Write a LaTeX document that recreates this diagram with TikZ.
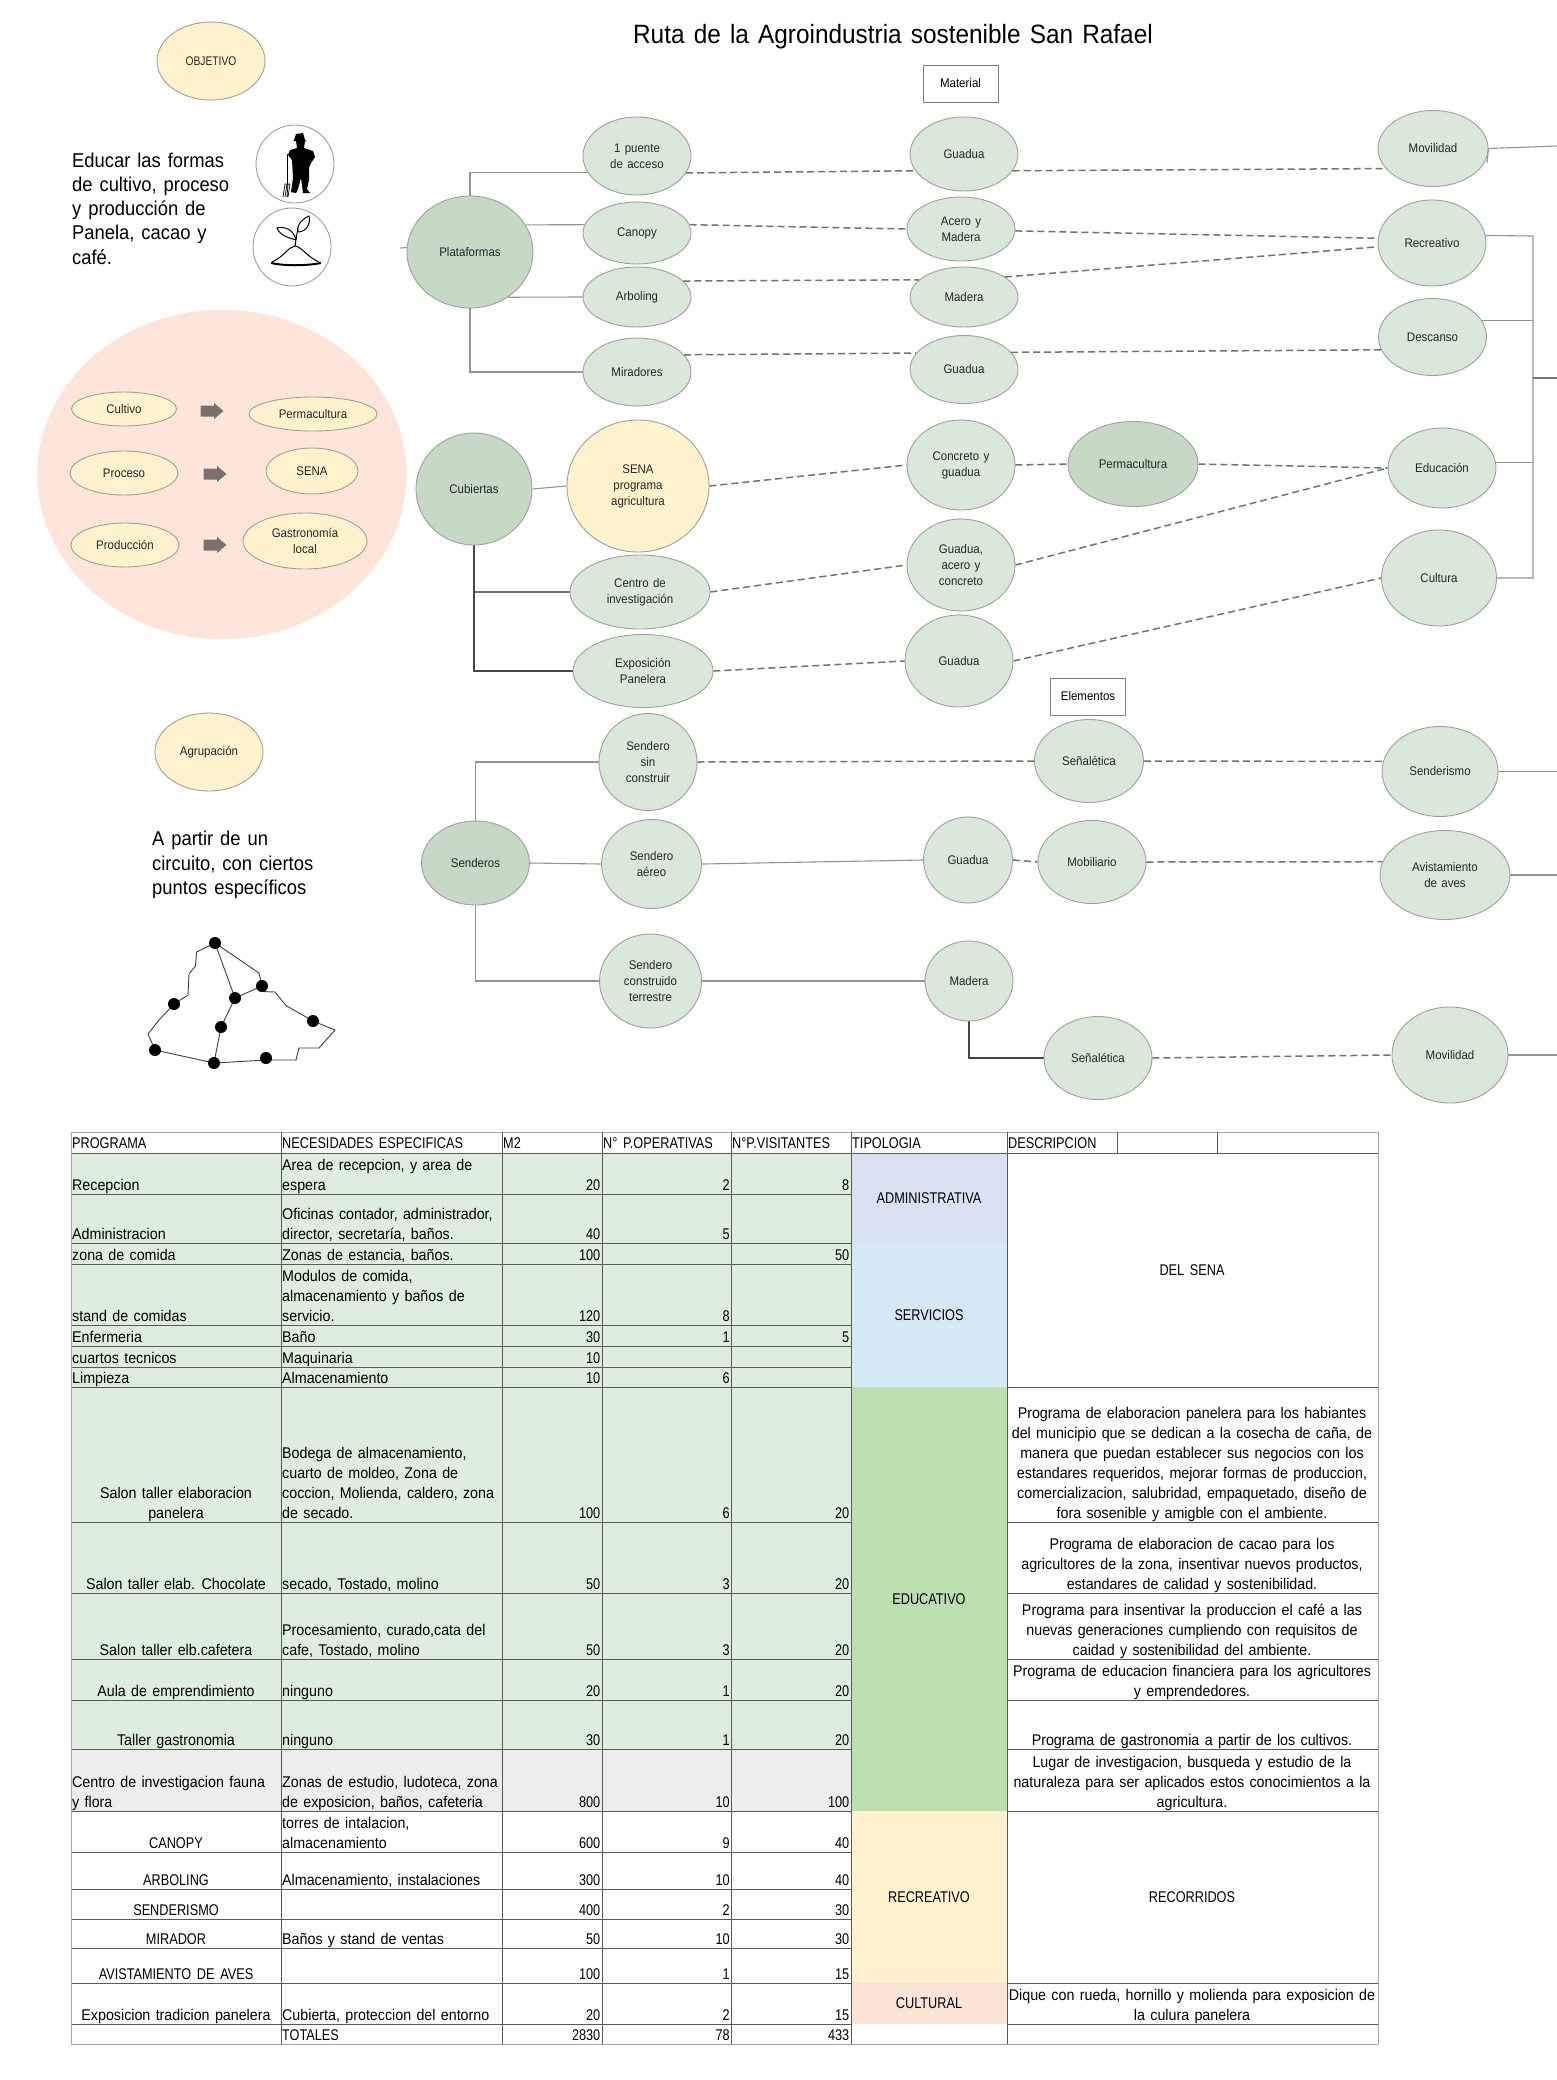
\documentclass[tikz,border=0pt]{standalone}
\usepackage{fontspec}
\setmainfont[FakeStretch=0.92,WordSpace=1.35]{Liberation Sans}
\newfontfamily\estrecha[FakeStretch=0.82,WordSpace=1.6]{Liberation Sans}
\usetikzlibrary{shapes.geometric,backgrounds}
\definecolor{verdeclaro}{HTML}{DAE8DC}
\definecolor{verdeoscuro}{HTML}{C5D9C5}
\definecolor{crema}{HTML}{FFF2CC}
\definecolor{durazno}{HTML}{FDE5D9}
\definecolor{borde}{HTML}{9AA39A}
\definecolor{filaverde}{HTML}{DDEEDC}
\definecolor{filagris}{HTML}{EDEDED}
\definecolor{tipoadmin}{HTML}{D9E2F3}
\definecolor{tiposerv}{HTML}{D5E8F5}
\definecolor{tipoedu}{HTML}{BBDFAE}
\definecolor{tipocult}{HTML}{FCE4D6}
\definecolor{flechagris}{HTML}{7A6F6B}
\tikzset{
  bola/.style 2 args={ellipse, minimum width=#1pt, minimum height=#2pt, inner sep=0pt,
    align=center, draw=borde, line width=0.9pt, text=black!85,
    font=\fontsize{12.5}{16}\selectfont},
  verde/.style 2 args={bola={#1}{#2}, fill=verdeclaro},
  fuerte/.style 2 args={bola={#1}{#2}, fill=verdeoscuro},
  amarilla/.style 2 args={bola={#1}{#2}, fill=crema},
  caja/.style={rectangle, draw=black!50, line width=0.9pt, inner sep=0pt, align=center,
    minimum width=75pt, minimum height=37pt, font=\fontsize{12.5}{16}\selectfont},
  liso/.style={draw=black!42, line width=1.1pt},
  medio/.style={draw=black!55, line width=1.2pt},
  oscuro/.style={draw=black!72, line width=1.3pt},
  punteado/.style={draw=black!55, line width=1.5pt, dash pattern=on 7pt off 4pt},
  nota/.style={anchor=west, inner sep=0pt, align=left, font=\fontsize{20}{24.3}\selectfont},
  celda/.style={inner sep=0pt, font=\fontsize{15.5}{20}\selectfont},
  celdaL/.style={celda, anchor=south west, align=left},
  celdaR/.style={celda, anchor=south east, align=right, font=\estrecha\fontsize{15.5}{20}\selectfont},
  celdaC/.style={celda, anchor=south, align=center},
  celdaM/.style={celda, anchor=center, align=center, font=\estrecha\fontsize{15.5}{20}\selectfont},
  regla/.style={draw=black!65, line width=0.9pt},
}
\begin{document}
\begin{tikzpicture}[x=1pt,y=-1pt]
\useasboundingbox (0,0) rectangle (1557,2080);
% titulo
\node[inner sep=0pt, font=\fontsize{26.5}{30}\selectfont] (titulo) at (893,36.5) {Ruta de la Agroindustria sostenible San Rafael};
% columna izquierda
\node[amarilla={108}{78}] (objetivo) at (211,61) {\estrecha OBJETIVO};
\node[nota] (educar) at (72,208.5) {Educar las formas\\de cultivo, proceso\\y producción de\\Panela, cacao y\\café.};
\node[bola={78}{78}] (agricultor) at (295,164) {};
\node[bola={78}{78}] (planta) at (292,247) {};
% agricultor
\fill[black] (294,140) -- (296,134) -- (303,133) -- (305,140) -- (307,141) -- (293,141) -- cycle;
\fill[black] (296,141) -- (305,141) -- (304,148) -- (313,151) -- (315,157) -- (311,163) -- (309,168) -- (309,180) -- (307,189) -- (310,193) -- (303,193) -- (301,178) -- (298,189) -- (296,193) -- (291,192) -- (293,178) -- (292,160) -- (288,155) -- (290,150) -- (297,148) -- cycle;
\draw[black, line width=0.8pt] (287,154) -- (287,184);
\draw[black, line width=0.7pt] (283,197) -- (285,184) -- (290,184) -- (288,197) (285,197) -- (287,184) (287,197) -- (288,184);
% planta
\draw[black, line width=1pt] (272,262) .. controls (285,256) and (288,247) .. (295,246) .. controls (302,247) and (306,256) .. (319,262);
\draw[black, line width=2pt] (271,263) .. controls (285,266) and (305,266) .. (321,263);
\draw[black, line width=1pt] (295,246) .. controls (296,240) and (297,233) .. (298,228);
\draw[black, line width=1pt] (296,240) .. controls (290,238) and (280,236) .. (277,228) .. controls (285,226) and (294,230) .. (296,240);
\draw[black, line width=1pt] (298,232) .. controls (296,224) and (304,218) .. (309,216) .. controls (311,224) and (306,232) .. (298,232);
% circulo durazno
\fill[durazno] (222,474.5) ellipse [x radius=184.5, y radius=164.5];
\node[amarilla={105}{34}] (cultivo) at (124,409) {Cultivo};
\node[amarilla={128}{34}] (perma) at (313,414) {Permacultura};
\node[amarilla={108}{44}] (proceso) at (124,473) {Proceso};
\node[amarilla={92}{46}] (sena) at (312,471) {SENA};
\node[amarilla={108}{44}] (produccion) at (125,545) {Producción};
\node[amarilla={124}{56}] (gastro) at (305,541) {Gastronomía\\local};
\foreach \ax/\ay in {212/411,215/474,215/545}
  \fill[flechagris] (\ax-11.5,\ay-5.5) -- (\ax+2,\ay-5.5) -- (\ax+2,\ay-8) -- (\ax+11.5,\ay) -- (\ax+2,\ay+8) -- (\ax+2,\ay+5.5) -- (\ax-11.5,\ay+5.5) -- cycle;
% agrupacion
\node[amarilla={108}{78}] (agrupa) at (209,752) {Agrupación};
\node[nota] (partir) at (152,865) {A partir de un\\circuito, con ciertos\\puntos específicos};
\draw[black!75, line width=0.9pt] (215,943) -- (196.5,952) -- (195.5,966) -- (189,974) -- (188,995) -- (174,1004) -- (159,1020) -- (148,1034) -- (155,1050) -- (214,1063) -- (266,1060) -- (296,1060) -- (299,1048) -- (319,1048) -- (335,1030) -- (313,1021) -- (286,1005.5) -- (275,992) -- (262,991.5) -- (262,986) -- (259,973) -- cycle;
\draw[black!75, line width=0.9pt] (215,943) -- (235,998) -- (262,986) (235,998) -- (221,1027) -- (214,1063);
\foreach \px/\py in {215/943,262/986,235/998,174/1004,313/1021,221/1027,155/1050,266/1058,214/1063}
  \fill[black] (\px,\py) circle (6);
% plataformas
\node[fuerte={126}{112}] (plat) at (470,252) {Plataformas};
\node[verde={108}{78}] (puente) at (637,156) {1 puente\\de acceso};
\node[verde={108}{62}] (canopy) at (637,233) {Canopy};
\node[verde={108}{60}] (arbol) at (637,297) {Arboling};
\node[verde={108}{68}] (mirador) at (637,372) {Miradores};
\node[caja] (material) at (960.5,83.5) {Material};
\node[verde={108}{74}] (guadua1) at (964,154) {Guadua};
\node[verde={108}{64}] (acero) at (961,229) {Acero y\\Madera};
\node[verde={108}{60}] (madera1) at (964,297) {Madera};
\node[verde={108}{68}] (guadua2) at (964,369.5) {Guadua};
\node[verde={110}{76}] (movil1) at (1433,148.5) {Movilidad};
\node[verde={108}{86}] (recrea) at (1432,243) {Recreativo};
\node[verde={108}{77}] (descanso) at (1432.5,337) {Descanso};
% cubiertas
\node[fuerte={116}{112}] (cubierta) at (474,489) {Cubiertas};
\node[amarilla={142}{132}] (senap) at (638,486) {SENA\\programa\\agricultura};
\node[verde={140}{74}] (centro) at (640,592) {Centro de\\investigación};
\node[verde={140}{73}] (expo) at (643,671) {Exposición\\Panelera};
\node[verde={108}{90}] (concreto) at (961,465) {Concreto y\\guadua};
\node[verde={108}{92}] (gac) at (961,565) {Guadua,\\acero y\\concreto};
\node[verde={108}{92}] (guadua3) at (959,661) {Guadua};
\node[fuerte={130}{85}] (perma2) at (1133,464) {Permacultura};
\node[verde={108}{80}] (educa) at (1442,468) {Educación};
\node[verde={115}{96}] (cultura) at (1439,578) {Cultura};
% senderos
\node[fuerte={108}{84}] (senderos) at (475.5,863) {Senderos};
\node[verde={98}{97}] (sinc) at (648,762) {Sendero\\sin\\construir};
\node[verde={100}{89}] (aereo) at (651.5,864) {Sendero\\aéreo};
\node[verde={102}{94}] (terre) at (650.5,981) {Sendero\\construido\\terrestre};
\node[caja] (elementos) at (1088,696.5) {Elementos};
\node[verde={109}{83}] (senal1) at (1089,761) {Señalética};
\node[verde={89}{86}] (guadua4) at (968,860) {Guadua};
\node[verde={108}{83}] (mobil) at (1092,862) {Mobiliario};
\node[verde={88}{80}] (madera2) at (969,981) {Madera};
\node[verde={108}{83}] (senal2) at (1098,1058) {Señalética};
\node[verde={116}{90}] (senderis) at (1440,771.5) {Senderismo};
\node[verde={130}{89}] (avista) at (1445,875) {Avistamiento\\de aves};
\node[verde={116}{96}] (movil2) at (1450,1055) {Movilidad};
% puntos libres
\coordinate (stub) at (400,248);
\coordinate (troncoA) at (1533,236);
\coordinate (troncoB) at (1533,578);
\coordinate (salidaA) at (1533,378);
\coordinate (salidaB) at (1557,378);
\coordinate (salMov) at (1557,146);
\coordinate (salSen) at (1557,771.5);
\coordinate (salAvi) at (1557,875);
\coordinate (salMov2) at (1557,1055);
\coordinate (ticMov) at (1487,163);
\begin{scope}[on background layer]
\fill[white] (0,0) rectangle (1557,2080);
\fill[durazno] (222,474.5) ellipse [x radius=184.5, y radius=164.5];
% lineas lisas
\draw[liso] (plat.north) |- (puente.199);
\draw[liso] (plat.26) -- (canopy.171);
\draw[liso] (plat.-50) -- (arbol.west);
\draw[liso] (plat.south) |- (mirador.west);
\draw[liso] (stub) -- (plat.176);
\draw[liso] (cubierta.east) -- (senap.west);
\draw[medio] (cubierta.south) |- (centro.west);
\draw[oscuro] (cubierta.south) |- (expo.west);
\draw[liso] (senderos.north) |- (sinc.west);
\draw[liso] (senderos.east) -- (aereo.west);
\draw[liso] (senderos.south) |- (terre.west);
\draw[liso] (aereo.east) -- (guadua4.west);
\draw[liso] (terre.east) -- (madera2.west);
\draw[oscuro] (madera2.south) |- (senal2.west);
\draw[liso] (recrea.8) -- (troncoA) -- (troncoB) -- (cultura.east);
\draw[liso] (descanso.18) -- (descanso.18 -| troncoA);
\draw[liso] (educa.6) -- (educa.6 -| troncoA);
\draw[medio] (salidaA) -- (salidaB);
\draw[liso] (movil1.east) -- (salMov);
\draw[liso] (movil1.east) -- (ticMov);
\draw[liso] (senderis.east) -- (salSen);
\draw[liso] (avista.east) -- (salAvi);
\draw[liso] (movil2.east) -- (salMov2);
\end{scope}
% lineas punteadas
\draw[punteado] (puente.-19) -- (guadua1.199);
\draw[punteado] (guadua1.-19) -- (movil1.203);
\draw[punteado] (canopy.9) -- (acero.west);
\draw[punteado] (acero.-2) -- (recrea.175);
\draw[punteado] (arbol.19) -- (madera1.159);
\draw[punteado] (madera1.26) -- (recrea.184);
\draw[punteado] (mirador.20) -- (guadua2.161);
\draw[punteado] (guadua2.20) -- (descanso.194);
\draw[punteado] (senap.east) -- (concreto.west);
\draw[punteado] (concreto.east) -- (perma2.west);
\draw[punteado] (perma2.east) -- (educa.west);
\draw[punteado] (centro.east) -- (gac.west);
\draw[punteado] (gac.east) -- (educa.west);
\draw[punteado] (expo.east) -- (guadua3.west);
\draw[punteado] (guadua3.east) -- (cultura.west);
\draw[punteado] (sinc.east) -- (senal1.west);
\draw[punteado] (senal1.east) -- (senderis.170);
\draw[punteado] (guadua4.east) -- (mobil.west);
\draw[punteado] (mobil.east) -- (avista.168);
\draw[punteado] (senal2.east) -- (movil2.west);
% tabla, fondos de tipologia
\fill[tipoadmin] (851,1153) rectangle (1007,1243);
\fill[tiposerv] (851,1243) rectangle (1007,1387);
\fill[tipoedu] (851,1387) rectangle (1007,1811);
\fill[crema] (851,1811) rectangle (1007,1983);
\fill[tipocult] (851,1983) rectangle (1007,2024);
% tabla, filas
\foreach \ya/\yb/\rc in {1153/1749/filaverde,1749/1811/filagris}
  \fill[\rc] (71,\ya) rectangle (851,\yb);
\foreach \yr in {1194,1243,1264,1325,1346,1367,1387,1522,1593,1659,1700,1749,1811,1852,1889,1919,1948,1983,2024}
  \draw[regla] (71,\yr) -- (851,\yr);
\foreach \yb/\pa/\prog/\nec/\mm/\ope/\vis [count=\r] in {
  1194/celdaL/Recepcion/{Area de recepcion, y area de\\espera}/20/2/8,
  1243/celdaL/Administracion/{Oficinas contador, administrador,\\director, secretaría, baños.}/40/5/{},
  1264/celdaL/zona de comida/{Zonas de estancia, baños.}/100/{}/50,
  1325/celdaL/stand de comidas/{Modulos de comida,\\almacenamiento y baños de\\servicio.}/120/8/{},
  1346/celdaL/Enfermeria/Baño/30/1/5,
  1367/celdaL/cuartos tecnicos/Maquinaria/10/{}/{},
  1387/celdaL/Limpieza/Almacenamiento/10/6/{},
  1522/celdaC/{Salon taller elaboracion\\panelera}/{Bodega de almacenamiento,\\cuarto de moldeo, Zona de\\coccion,  Molienda, caldero, zona\\de secado.}/100/6/20,
  1593/celdaC/Salon taller elab. Chocolate/{secado, Tostado, molino}/50/3/20,
  1659/celdaC/Salon taller elb.cafetera/{Procesamiento, curado,cata del\\cafe, Tostado, molino}/50/3/20,
  1700/celdaC/Aula de emprendimiento/ninguno/20/1/20,
  1749/celdaC/Taller gastronomia/ninguno/30/1/20,
  1811/celdaL/{Centro de investigacion fauna\\y flora}/{Zonas de estudio, ludoteca, zona\\de exposicion, baños, cafeteria}/800/10/100,
  1852/celdaC/{\estrecha CANOPY}/{torres de intalacion,\\almacenamiento}/600/9/40,
  1889/celdaC/{\estrecha ARBOLING}/{Almacenamiento, instalaciones}/300/10/40,
  1919/celdaC/{\estrecha SENDERISMO}/{}/400/2/30,
  1948/celdaC/{\estrecha MIRADOR}/Baños y stand de ventas/50/10/30,
  1983/celdaC/{\estrecha AVISTAMIENTO DE AVES}/{}/100/1/15,
  2024/celdaC/Exposicion tradicion panelera/{Cubierta, proteccion del entorno}/20/2/15,
  2044/celdaC/{}/{\estrecha TOTALES}/2830/78/433}
{
  \node[\pa] (prog\r) at (\ifnum\r<8 72\else\ifnum\r=13 72\else 176\fi\fi,\yb+3) {\prog\strut};
  \node[celdaL] (nec\r) at (282,\yb+3) {\nec\strut};
  \node[celdaR] (mm\r) at (600.5,\yb+3) {\mm\strut};
  \node[celdaR] (ope\r) at (730,\yb+3) {\ope\strut};
  \node[celdaR] (vis\r) at (849.5,\yb+3) {\vis\strut};
}
% tabla, cabecera
\draw[regla] (71,1153) -- (1378,1153);
\foreach \hx/\htxt [count=\h] in {72/PROGRAMA,282/NECESIDADES ESPECIFICAS,503/M2,603/N° P.OPERATIVAS,732/N°P.VISITANTES,852/TIPOLOGIA,1008/DESCRIPCION}
  \node[celdaL] (cab\h) at (\hx,1155) {\estrecha\htxt\strut};
% tabla, tipologia
\node[celdaM] (tadmin) at (929,1198) {ADMINISTRATIVA};
\node[celdaM] (tserv) at (929,1315) {SERVICIOS};
\node[celdaM] (tedu) at (929,1599) {EDUCATIVO};
\node[celdaM] (trecre) at (929,1897) {RECREATIVO};
\node[celdaM] (tcult) at (929,2003.5) {CULTURAL};
% tabla, descripcion
\node[celdaM] (dsena) at (1192,1270) {DEL SENA};
\node[celdaM] (drecorr) at (1192,1897) {RECORRIDOS};
\foreach \yb/\dtxt [count=\d] in {
  1522/{Programa de elaboracion panelera para los habiantes\\del municipio que se dedican a la cosecha de caña, de\\manera que puedan establecer sus negocios con los\\estandares requeridos, mejorar formas de produccion,\\comercializacion, salubridad, empaquetado, diseño de\\fora sosenible y amigble con el ambiente.},
  1593/{Programa de elaboracion de cacao para los\\agricultores de la zona, insentivar nuevos productos,\\estandares de calidad y sostenibilidad.},
  1659/{Programa para insentivar la produccion el café a las\\nuevas generaciones cumpliendo con requisitos de\\caidad y sostenibilidad del ambiente.},
  1700/{Programa de educacion financiera para los agricultores\\y emprendedores.},
  1749/{Programa de gastronomia a partir de los cultivos.},
  1811/{Lugar de investigacion, busqueda y estudio de la\\naturaleza para ser aplicados estos conocimientos a la\\agricultura.},
  2024/{Dique con rueda, hornillo y molienda para exposicion de\\la culura panelera}}
  \node[celdaC] (desc\d) at (1192,\yb+3) {\dtxt\strut};
% tabla, reglas
\foreach \yr in {1387,1522,1593,1659,1700,1749,1811,1983,2024}
  \draw[regla] (1007,\yr) -- (1378,\yr);
\draw[regla, draw=black!35] (71,1132) -- (1378,1132);
\draw[regla, draw=black!35] (71,2044) -- (1378,2044);
\draw[regla, draw=black!35] (71,1132) -- (71,2044);
\draw[regla, draw=black!35] (1378,1132) -- (1378,2044);
\foreach \xr in {281,502,602,731,851,1007}
  \draw[regla] (\xr,1132) -- (\xr,2044);
\foreach \xr in {1117,1217}
  \draw[regla] (\xr,1132) -- (\xr,1153);
\end{tikzpicture}
\end{document}
